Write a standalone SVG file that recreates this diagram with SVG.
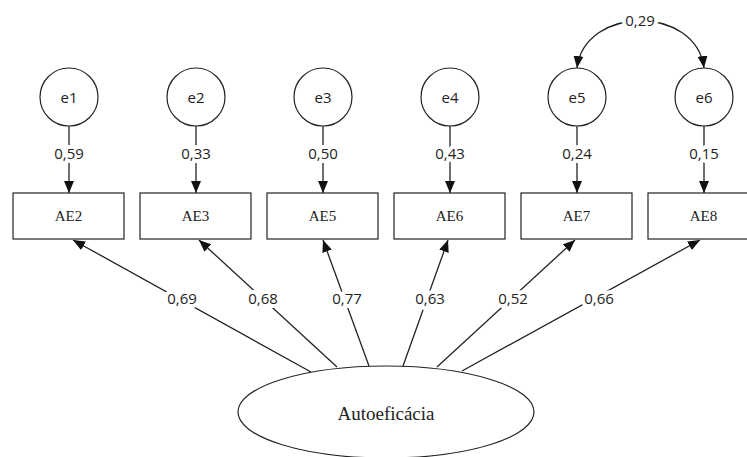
<svg xmlns="http://www.w3.org/2000/svg" width="747" height="457" viewBox="0 0 747 457">
  <defs>
    <marker id="arrow" viewBox="0 0 12 10" refX="12" refY="5" markerWidth="12" markerHeight="10" markerUnits="userSpaceOnUse" orient="auto-start-reverse">
      <path d="M0,0 L12,5 L0,10 Z" fill="#111"/>
    </marker>
  </defs>
  <style>
    .node { fill: #fff; stroke: #222; stroke-width: 1.2; }
    .edge { fill: none; stroke: #222; stroke-width: 1.3; marker-end: url(#arrow); }
    .lbl { font-family: "Liberation Serif", "DejaVu Serif", serif; font-size: 15px; fill: #222; text-anchor: middle; dominant-baseline: central; }
    .err { font-family: "Open Sans", "DejaVu Sans", sans-serif; font-size: 15px; fill: #222; text-anchor: middle; dominant-baseline: central; }
    .big { font-size: 19px; }
    .coef { font-family: "Open Sans", "DejaVu Sans", sans-serif; font-size: 15px; fill: #222; text-anchor: middle; dominant-baseline: central; stroke: #fff; stroke-width: 8px; paint-order: stroke; stroke-linejoin: round; }
  </style>
  <rect width="747" height="457" fill="#fff"/>

  <!-- connectors -->
  <g id="connectors">
    <!-- error terms to indicators -->
    <line class="edge" x1="69" y1="126" x2="69" y2="193"/>
    <line class="edge" x1="196" y1="126" x2="196" y2="193"/>
    <line class="edge" x1="323" y1="126" x2="323" y2="193"/>
    <line class="edge" x1="450" y1="126" x2="450" y2="193"/>
    <line class="edge" x1="577" y1="126" x2="577" y2="193"/>
    <line class="edge" x1="704" y1="126" x2="704" y2="193"/>
    <!-- latent factor to indicators -->
    <line class="edge" x1="311" y1="372" x2="73" y2="240"/>
    <line class="edge" x1="337" y1="367" x2="199" y2="240"/>
    <line class="edge" x1="369" y1="366" x2="323" y2="240"/>
    <line class="edge" x1="403" y1="366" x2="448" y2="240"/>
    <line class="edge" x1="437" y1="367" x2="575" y2="240"/>
    <line class="edge" x1="462" y1="371" x2="700" y2="240"/>
    <!-- covariance e5 <-> e6 -->
    <path class="edge" d="M577,68 C585,5 696,5 704,68" marker-start="url(#arrow)"/>

    <text class="coef" x="69" y="153">0,59</text>
    <text class="coef" x="196" y="153">0,33</text>
    <text class="coef" x="323" y="153">0,50</text>
    <text class="coef" x="450" y="153">0,43</text>
    <text class="coef" x="577" y="153">0,24</text>
    <text class="coef" x="704" y="153">0,15</text>

    <text class="coef" x="182" y="298">0,69</text>
    <text class="coef" x="263" y="298">0,68</text>
    <text class="coef" x="347" y="298">0,77</text>
    <text class="coef" x="430" y="298">0,63</text>
    <text class="coef" x="513" y="298">0,52</text>
    <text class="coef" x="599" y="298">0,66</text>

    <text class="coef" x="640" y="20">0,29</text>
  </g>

  <!-- error terms -->
  <g id="e1"><circle class="node" cx="69" cy="97" r="29"/><text class="err" x="69" y="97">e1</text></g>
  <g id="e2"><circle class="node" cx="196" cy="97" r="29"/><text class="err" x="196" y="97">e2</text></g>
  <g id="e3"><circle class="node" cx="323" cy="97" r="29"/><text class="err" x="323" y="97">e3</text></g>
  <g id="e4"><circle class="node" cx="450" cy="97" r="29"/><text class="err" x="450" y="97">e4</text></g>
  <g id="e5"><circle class="node" cx="577" cy="97" r="29"/><text class="err" x="577" y="97">e5</text></g>
  <g id="e6"><circle class="node" cx="704" cy="97" r="29"/><text class="err" x="704" y="97">e6</text></g>

  <!-- observed indicators -->
  <g id="AE2"><rect class="node" x="13" y="193" width="111" height="46"/><text class="lbl" x="68.5" y="216">AE2</text></g>
  <g id="AE3"><rect class="node" x="140" y="193" width="111" height="46"/><text class="lbl" x="195.5" y="216">AE3</text></g>
  <g id="AE5"><rect class="node" x="267" y="193" width="111" height="46"/><text class="lbl" x="322.5" y="216">AE5</text></g>
  <g id="AE6"><rect class="node" x="394" y="193" width="111" height="46"/><text class="lbl" x="449.5" y="216">AE6</text></g>
  <g id="AE7"><rect class="node" x="521" y="193" width="111" height="46"/><text class="lbl" x="576.5" y="216">AE7</text></g>
  <g id="AE8"><rect class="node" x="648" y="193" width="111" height="46"/><text class="lbl" x="703.5" y="216">AE8</text></g>

  <!-- latent factor -->
  <g id="Autoeficacia"><ellipse class="node" cx="386" cy="412" rx="148" ry="46"/><text class="lbl big" x="386" y="413">Autoeficácia</text></g>
</svg>
